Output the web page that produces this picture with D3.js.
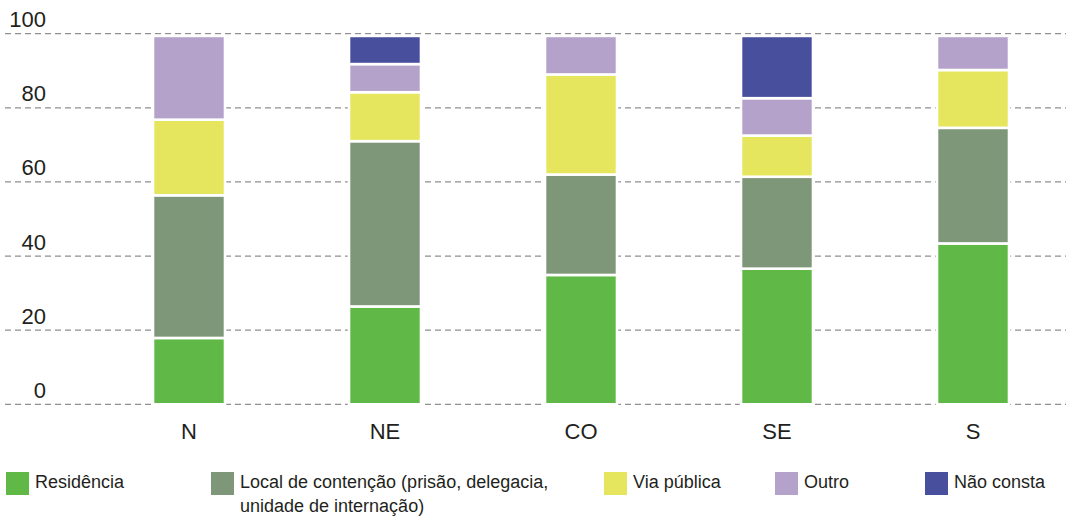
<!DOCTYPE html>
<html lang="pt">
  <head>
    <meta charset="utf-8" />
    <title>Local de ocorrência por região</title>
    <script src="https://d3js.org/d3.v7.min.js" charset="utf-8"></script>
    <style>
      body { margin: 0; background: #fff; }
      svg { display: block; font-family: Helvetica, Arial, "Liberation Sans", sans-serif; }
      .grid line { stroke: #8f8f8f; stroke-width: 1.3; stroke-dasharray: 6,4; }
      .tick-label { fill: #231f20; font-size: 22px; }
      .legend text { fill: #231f20; font-size: 18px; }
    </style>
  </head>
  <body>
    <div id="chart"></div>
    <script>
      // data (percent)
      const regions = ["N", "NE", "CO", "SE", "S"];
      const seriesNames = ["Residência", "Local de contenção (prisão, delegacia, unidade de internação)", "Via pública", "Outro", "Não consta"];
      const residencia = [17.9, 26.4, 34.9, 36.6, 43.4];
      const contencao = [38.5, 44.6, 27.1, 24.8, 31.2];
      const viaPublica = [20.4, 13.2, 27.0, 11.1, 15.6];
      const outro = [22.6, 7.6, 10.4, 10.1, 9.2];
      const naoConsta = [0, 7.6, 0, 16.8, 0];
      const yTicks = [0, 20, 40, 60, 80, 100];

      const colours = ["#60b946", "#7e9778", "#e5e65e", "#b4a2cb", "#48509e"];
      const keys = ["res", "cont", "via", "outro", "nao"];

      const data = regions.map((r, i) => ({
        region: r,
        res: residencia[i],
        cont: contencao[i],
        via: viaPublica[i],
        outro: outro[i],
        nao: naoConsta[i]
      }));

      const width = 1070, height = 516;
      const svg = d3.select("#chart").append("svg")
        .attr("width", width)
        .attr("height", height);

      const x = d3.scalePoint().domain(regions).range([189, 973]);
      const y = d3.scaleLinear().domain([0, 100]).range([404.3, 33.7]);
      const barW = 72;

      // dashed gridlines
      const grid = svg.append("g").attr("class", "grid");
      grid.selectAll("line").data(yTicks).join("line")
        .attr("x1", 5).attr("x2", 1066)
        .attr("y1", d => y(d)).attr("y2", d => y(d));

      // y labels sit above their gridline
      svg.append("g").selectAll("text").data(yTicks).join("text")
        .attr("class", "tick-label")
        .attr("x", 46)
        .attr("y", d => y(d) - 6.5)
        .attr("text-anchor", "end")
        .text(d => d);

      // stacked bars
      const stacked = d3.stack().keys(keys)(data);
      svg.append("g").selectAll("g").data(stacked).join("g")
        .attr("fill", (d, i) => colours[i])
        .selectAll("rect")
        .data(d => d.filter(s => s[1] - s[0] > 0))
        .join("rect")
        .attr("x", d => x(d.data.region) - barW / 2)
        .attr("width", barW)
        .attr("y", d => y(d[1]))
        .attr("height", d => y(d[0]) - y(d[1]))
        .attr("stroke", "#fff")
        .attr("stroke-width", 2.6);

      // x labels
      svg.append("g").selectAll("text").data(regions).join("text")
        .attr("class", "tick-label")
        .attr("x", d => x(d))
        .attr("y", 439)
        .attr("text-anchor", "middle")
        .text(d => d);

      // legend
      const legendX = [6, 211, 604, 775, 925];
      const legend = svg.append("g").attr("class", "legend");
      const item = legend.selectAll("g").data(seriesNames).join("g")
        .attr("transform", (d, i) => `translate(${legendX[i]},472)`);
      item.append("rect")
        .attr("width", 23).attr("height", 23)
        .attr("fill", (d, i) => colours[i]);
      item.each(function (d) {
        const t = d3.select(this).append("text").attr("x", 29).attr("y", 16);
        const lines = d.startsWith("Local")
          ? ["Local de contenção (prisão, delegacia,", "unidade de internação)"]
          : [d];
        lines.forEach((l, j) => {
          t.append("tspan").attr("x", 29).attr("dy", j === 0 ? 0 : 24).text(l);
        });
      });
    </script>
  </body>
</html>
